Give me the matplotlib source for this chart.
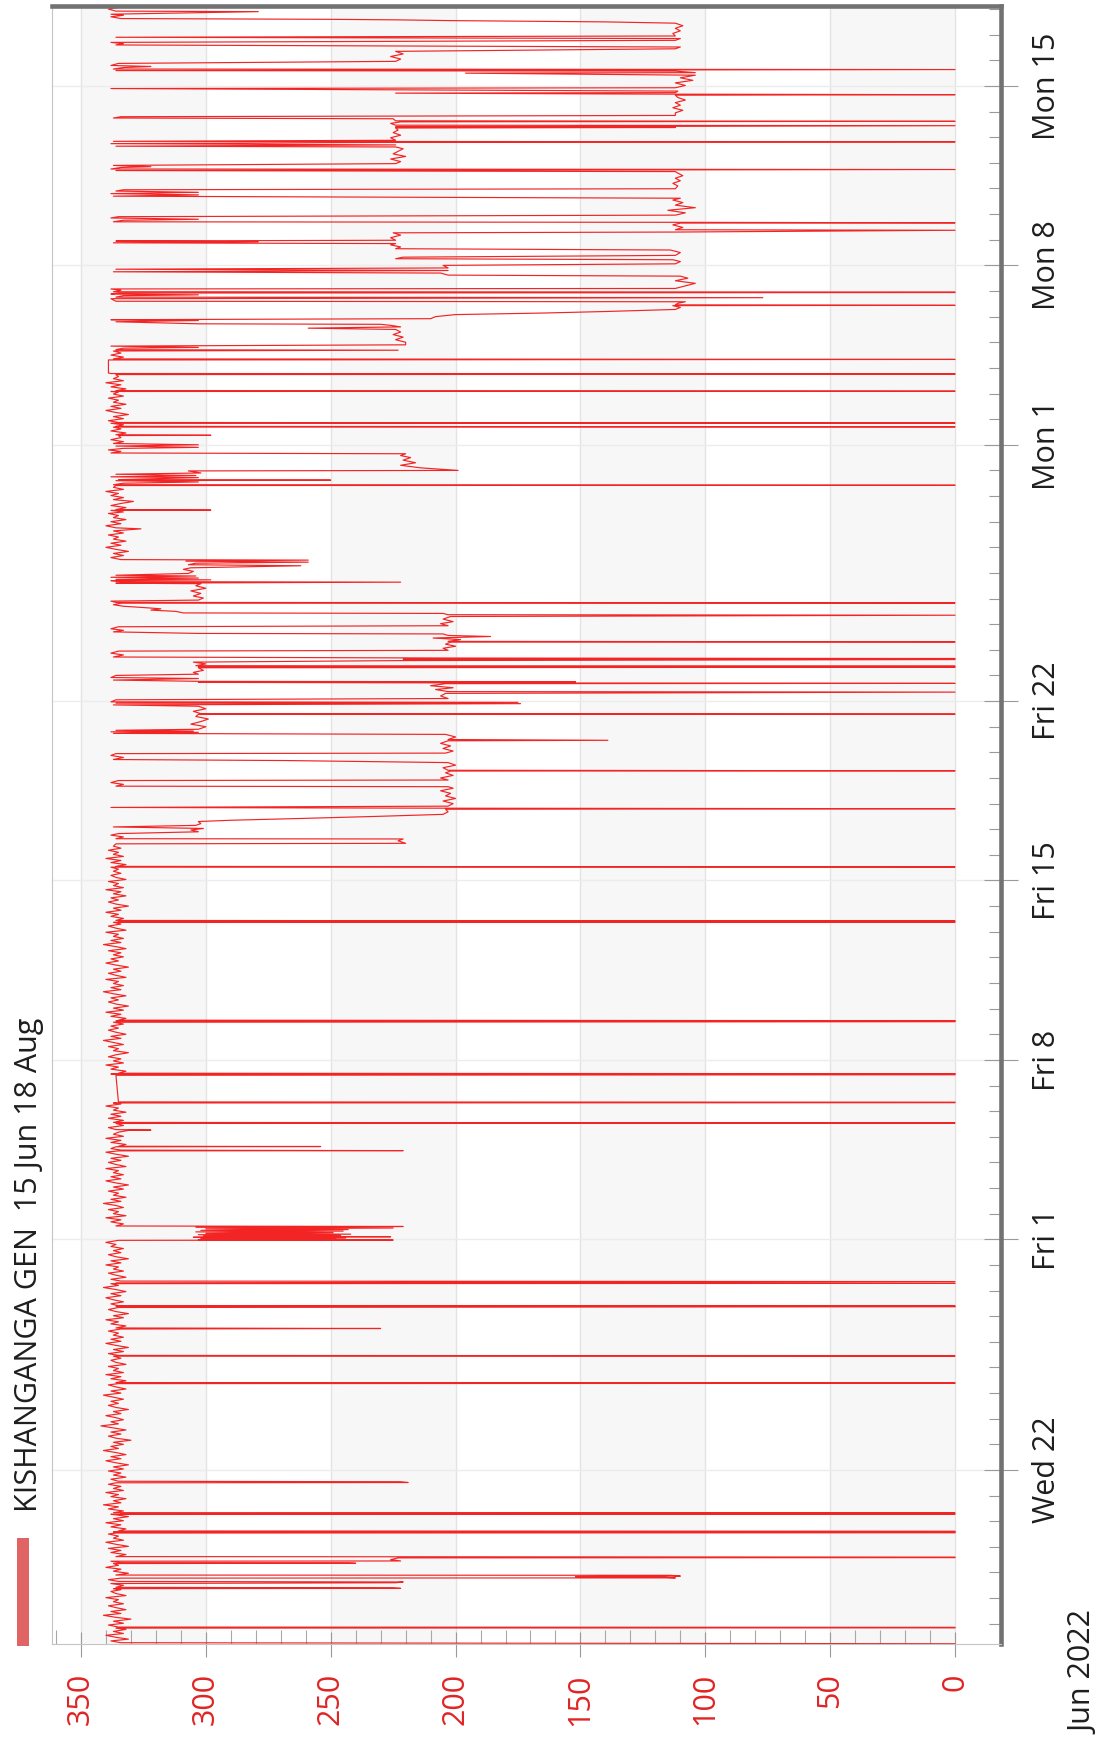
import datetime as dt

import numpy as np
import matplotlib
matplotlib.use("Agg")
import matplotlib.pyplot as plt
import matplotlib.dates as mdates
from matplotlib.ticker import FixedLocator, FuncFormatter
from matplotlib.patches import Rectangle

plt.rcParams['font.family'] = ['Open Sans', 'DejaVu Sans']

series_name = "KISHANGANGA GEN  15 Jun 18 Aug"
start = dt.datetime(2022, 6, 15)
month_label = "Jun 2022"

# Generation (MW) readings as (days after 15 Jun 00:00, MW), one list per stretch
wk1 = [
    (0.22, 0), (0.26, 334), (0.33, 338), (0.4, 331), (0.47, 336), (0.55, 340), (0.62, 333), (0.7, 337),
    (0.78, 332), (0.83, 336), (0.84, 0), (0.86, 0), (0.87, 335),
    (0.95, 339), (1.02, 333), (1.1, 337), (1.18, 330), (1.25, 336), (1.33, 341), (1.4, 334), (1.48, 338),
    (1.55, 332), (1.63, 336), (1.7, 339), (1.78, 333), (1.86, 337), (1.94, 335), (2.02, 340), (2.1, 332),
    (2.18, 336), (2.26, 338), (2.33, 334), (2.37, 337),
    (2.38, 222), (2.40, 225), (2.42, 336), (2.5, 333), (2.57, 338), (2.60, 224), (2.63, 221), (2.65, 335),
    (2.72, 339), (2.78, 334),
    (2.79, 112), (2.82, 118), (2.84, 152), (2.86, 110), (2.89, 114), (2.90, 336),
    (2.97, 331), (3.05, 337), (3.13, 334), (3.2, 340), (3.28, 335), (3.35, 337), (3.36, 240), (3.37, 243),
    (3.38, 334), (3.44, 338), (3.45, 222), (3.5, 226), (3.57, 223), (3.58, 0), (3.6, 0), (3.62, 336),
    (3.7, 332), (3.78, 338), (3.86, 334), (3.94, 339), (4.02, 331), (4.1, 336), (4.18, 340), (4.26, 333),
    (4.34, 337), (4.42, 335), (4.5, 339), (4.54, 336),
    (4.55, 0), (4.57, 0), (4.58, 337), (4.59, 0), (4.61, 0), (4.62, 335),
    (4.7, 332), (4.78, 338), (4.86, 334), (4.94, 340), (5.02, 333), (5.1, 337), (5.18, 331), (5.25, 336),
    (5.27, 338), (5.28, 0), (5.30, 334), (5.32, 0), (5.33, 337),
    (5.4, 333), (5.48, 339), (5.56, 335), (5.64, 341), (5.72, 334), (5.8, 337), (5.88, 332), (5.96, 338),
    (6.04, 335), (6.12, 340), (6.2, 333), (6.28, 337), (6.36, 334), (6.44, 339), (6.5, 336),
    (6.51, 219), (6.54, 222), (6.56, 335),
    (6.64, 338), (6.72, 332), (6.8, 337), (6.88, 334), (6.96, 339),
]

wk2 = [
    (7.04, 333), (7.12, 337), (7.2, 331), (7.28, 336), (7.36, 340), (7.44, 334), (7.52, 338), (7.6, 332),
    (7.68, 336), (7.76, 341), (7.84, 335), (7.92, 338), (8.0, 333), (8.08, 337), (8.16, 330), (8.24, 336),
    (8.32, 339), (8.4, 334), (8.48, 338), (8.56, 332), (8.64, 337), (8.72, 342), (8.8, 335), (8.88, 338),
    (8.96, 333), (9.04, 336), (9.12, 340), (9.2, 334), (9.28, 337), (9.36, 331), (9.44, 336), (9.52, 339),
    (9.6, 335), (9.68, 338), (9.76, 333), (9.84, 337), (9.92, 341), (10.0, 334), (10.08, 338), (10.16, 332),
    (10.24, 336), (10.32, 339), (10.37, 335),
    (10.38, 0), (10.40, 0), (10.41, 336),
    (10.48, 332), (10.56, 338), (10.64, 334), (10.72, 340), (10.8, 333), (10.88, 337), (10.96, 335),
    (11.04, 339), (11.12, 332), (11.2, 336), (11.28, 338), (11.36, 334), (11.44, 337),
    (11.45, 0), (11.47, 335),
    (11.54, 339), (11.62, 333), (11.7, 337), (11.78, 331), (11.86, 336), (11.94, 340), (12.02, 334),
    (12.1, 338), (12.18, 333), (12.26, 337), (12.34, 335), (12.42, 339), (12.5, 334), (12.52, 230),
    (12.54, 336), (12.62, 332), (12.7, 338), (12.78, 335), (12.86, 340), (12.94, 333), (13.02, 337),
    (13.1, 331), (13.18, 336), (13.26, 339), (13.34, 335),
    (13.37, 0), (13.38, 0), (13.39, 336), (13.40, 0), (13.41, 335),
    (13.48, 338), (13.56, 333), (13.64, 337), (13.72, 340), (13.8, 334), (13.88, 338), (13.96, 332),
    (14.04, 336), (14.12, 341), (14.2, 335), (14.27, 338),
    (14.28, 0), (14.30, 336), (14.35, 0), (14.37, 334),
    (14.44, 338), (14.52, 332),
]

wk3 = [
    (14.6, 336), (14.68, 339), (14.76, 333), (14.84, 337), (14.92, 335), (15.0, 340), (15.08, 334),
    (15.16, 338), (15.24, 331), (15.32, 336), (15.4, 339), (15.48, 334), (15.56, 337), (15.64, 333),
    (15.72, 338), (15.8, 336), (15.88, 340), (15.96, 335),
    (15.97, 225), (15.99, 303), (16.02, 248), (16.04, 302), (16.06, 244), (16.08, 305), (16.1, 226),
    (16.12, 301), (16.15, 246), (16.18, 303), (16.2, 242), (16.23, 300), (16.26, 249), (16.29, 304),
    (16.32, 245), (16.35, 302), (16.38, 243), (16.41, 300), (16.44, 225), (16.47, 304), (16.5, 221),
    (16.52, 336),
    (16.6, 333), (16.68, 338), (16.76, 334), (16.84, 340), (16.92, 332), (17.0, 337), (17.08, 335),
    (17.16, 339), (17.24, 333), (17.32, 336), (17.4, 341), (17.48, 334), (17.56, 338), (17.64, 332),
    (17.72, 337), (17.8, 335), (17.88, 339), (17.96, 333), (18.04, 337), (18.12, 331), (18.2, 336),
    (18.28, 340), (18.36, 334), (18.44, 338), (18.52, 333), (18.6, 337), (18.68, 335), (18.76, 340),
    (18.84, 332), (18.92, 336), (19.0, 339), (19.08, 334), (19.16, 338), (19.24, 331), (19.32, 336),
    (19.4, 340), (19.45, 335),
    (19.46, 221), (19.48, 334),
    (19.54, 338), (19.61, 336), (19.62, 254), (19.63, 335),
    (19.7, 332), (19.78, 338), (19.86, 334), (19.94, 340), (20.02, 333), (20.1, 337), (20.18, 335),
    (20.25, 331), (20.26, 322), (20.28, 336), (20.36, 339), (20.44, 333), (20.52, 336),
    (20.54, 0), (20.56, 337),
    (20.64, 333), (20.72, 339), (20.8, 334), (20.88, 338), (20.96, 332), (21.04, 337), (21.12, 335),
    (21.2, 340), (21.28, 334), (21.32, 337),
    (21.33, 0), (21.35, 0), (21.36, 335),
    (22.40, 336),
    (22.42, 0), (22.44, 0), (22.45, 338), (22.46, 0), (22.48, 335),
]

wk4 = [
    (22.56, 332), (22.64, 338), (22.72, 335), (22.8, 340), (22.88, 333), (22.96, 337), (23.04, 334),
    (23.12, 339), (23.2, 336), (23.28, 331), (23.36, 337), (23.44, 335), (23.52, 339), (23.6, 333),
    (23.68, 337), (23.76, 341), (23.84, 334), (23.92, 338), (24.0, 332), (24.08, 336), (24.16, 339),
    (24.24, 335), (24.32, 338), (24.4, 333), (24.47, 337),
    (24.49, 0), (24.51, 0), (24.52, 336), (24.53, 0), (24.55, 335),
    (24.62, 332), (24.7, 338), (24.78, 334), (24.86, 340), (24.94, 333), (25.02, 337), (25.1, 331),
    (25.18, 336), (25.26, 339), (25.34, 335), (25.42, 338), (25.5, 332), (25.58, 337), (25.66, 341),
    (25.74, 334), (25.82, 338), (25.9, 333), (25.98, 337), (26.06, 335), (26.14, 340), (26.22, 332),
    (26.3, 336), (26.38, 339), (26.46, 334), (26.54, 337), (26.62, 331), (26.7, 336), (26.78, 340),
    (26.86, 335), (26.94, 338), (27.02, 333), (27.1, 337), (27.18, 334), (27.26, 339), (27.34, 332),
    (27.42, 336), (27.5, 341), (27.58, 334), (27.66, 338), (27.74, 333), (27.82, 337), (27.9, 335),
    (27.98, 340), (28.06, 332), (28.14, 336), (28.22, 339), (28.3, 334), (28.37, 337),
    (28.38, 0), (28.40, 335), (28.42, 0), (28.44, 336),
    (28.52, 333), (28.6, 338), (28.68, 335), (28.76, 340), (28.84, 334), (28.92, 337), (29.0, 331),
    (29.08, 336), (29.16, 339), (29.24, 335), (29.32, 338), (29.4, 332), (29.48, 337), (29.56, 334),
    (29.64, 340), (29.72, 333), (29.8, 337), (29.88, 335), (29.96, 339), (30.04, 332), (30.12, 336),
    (30.2, 338), (30.28, 334), (30.36, 337), (30.44, 335), (30.52, 338),
    (30.53, 0), (30.55, 336),
    (30.62, 332), (30.7, 338), (30.78, 334), (30.86, 340), (30.94, 333), (31.02, 337), (31.1, 335),
    (31.18, 339), (31.26, 334), (31.34, 337), (31.43, 336),
    (31.45, 220), (31.55, 223), (31.62, 221), (31.63, 336),
]

wk5 = [
    (31.7, 333), (31.77, 338), (31.83, 335), (31.9, 303), (31.97, 306), (32.03, 301), (32.09, 337),
    (32.15, 304), (32.22, 302), (32.3, 303), (32.35, 290), (32.42, 262), (32.5, 232), (32.58, 205),
    (32.68, 203), (32.78, 204), (32.8, 0), (32.82, 202), (32.85, 338), (32.9, 203),
    (33.0, 201), (33.1, 205), (33.2, 200), (33.3, 204), (33.4, 202), (33.5, 206), (33.6, 201),
    (33.66, 203), (33.68, 336), (33.75, 333), (33.82, 338), (33.9, 335), (33.92, 203),
    (34.0, 206), (34.1, 201), (34.2, 204), (34.27, 202), (34.28, 0), (34.3, 203), (34.4, 205),
    (34.5, 200), (34.6, 203), (34.68, 268), (34.72, 337), (34.8, 333), (34.88, 338), (34.95, 336),
    (34.97, 204),
    (35.05, 201), (35.15, 205), (35.25, 202), (35.35, 206), (35.45, 203), (35.47, 139), (35.5, 203),
    (35.6, 200), (35.7, 204), (35.74, 337), (35.78, 303), (35.8, 338), (35.83, 305), (35.86, 336),
    (35.9, 303),
    (36.0, 300), (36.1, 306), (36.2, 302), (36.3, 299), (36.4, 304), (36.48, 303), (36.49, 0),
    (36.51, 302), (36.6, 305), (36.7, 300), (36.8, 303), (36.85, 337), (36.9, 174), (36.92, 336),
    (36.95, 175), (36.97, 338),
    (37.05, 336), (37.1, 203), (37.2, 206), (37.3, 204), (37.35, 0), (37.37, 203), (37.45, 208),
    (37.52, 201), (37.6, 210), (37.68, 204), (37.69, 0), (37.71, 203), (37.73, 303), (37.75, 152),
    (37.77, 303), (37.82, 337), (37.88, 303), (37.92, 338), (38.0, 336), (38.05, 303),
    (38.12, 305), (38.2, 301), (38.3, 303), (38.32, 0), (38.34, 303), (38.36, 0), (38.38, 304),
    (38.45, 300), (38.52, 305), (38.58, 221), (38.62, 0), (38.64, 221), (38.66, 0), (38.68, 205),
]

wk6 = [
    (38.72, 337), (38.8, 333), (38.87, 338), (38.95, 335), (38.98, 203), (39.06, 205), (39.14, 200),
    (39.22, 204), (39.3, 202), (39.31, 0), (39.33, 203), (39.4, 198), (39.46, 209), (39.52, 186),
    (39.56, 203), (39.62, 205), (39.64, 303), (39.7, 337), (39.76, 333), (39.82, 338), (39.9, 335),
    (39.94, 203),
    (40.02, 206), (40.1, 201), (40.2, 205), (40.3, 202), (40.35, 0), (40.37, 203), (40.42, 205),
    (40.44, 309), (40.5, 312), (40.55, 322), (40.6, 318), (40.65, 325), (40.7, 333), (40.76, 337),
    (40.82, 334), (40.83, 0), (40.85, 336), (40.9, 338), (40.94, 303),
    (41.02, 301), (41.1, 305), (41.2, 302), (41.3, 306), (41.4, 300), (41.5, 304), (41.58, 302),
    (41.6, 336), (41.64, 222), (41.66, 334), (41.7, 338), (41.73, 298), (41.75, 336), (41.8, 303),
    (41.83, 338), (41.88, 304), (41.91, 336),
    (41.98, 307), (42.06, 305), (42.14, 309), (42.2, 306), (42.28, 262), (42.32, 307), (42.38, 304),
    (42.42, 259), (42.46, 308), (42.5, 259), (42.52, 334),
    (42.6, 338), (42.68, 333), (42.76, 337), (42.84, 331), (42.92, 336), (43.0, 340), (43.08, 334),
    (43.16, 338), (43.24, 332), (43.32, 337), (43.4, 335), (43.48, 339), (43.56, 333), (43.64, 337),
    (43.72, 326), (43.76, 336), (43.84, 340), (43.92, 334), (44.0, 338), (44.08, 332), (44.16, 337),
    (44.24, 335), (44.32, 339), (44.38, 333), (44.44, 338),
    (44.45, 298), (44.47, 336),
    (44.55, 332), (44.63, 338), (44.71, 334), (44.79, 329), (44.86, 337), (44.94, 333), (45.02, 338),
    (45.1, 335), (45.18, 340), (45.26, 333), (45.34, 337), (45.41, 336),
    (45.42, 0), (45.44, 337),
]

wk7 = [
    (45.5, 333), (45.55, 303), (45.6, 336), (45.62, 250), (45.64, 335), (45.72, 303), (45.75, 338),
    (45.8, 304), (45.85, 336), (45.9, 302), (45.98, 307), (46.0, 199),
    (46.1, 214), (46.2, 222), (46.3, 216), (46.4, 221), (46.5, 218), (46.58, 222), (46.65, 220),
    (46.68, 338),
    (46.74, 334), (46.8, 339), (46.86, 333), (46.9, 303), (46.95, 336), (47.0, 303), (47.05, 337),
    (47.12, 333), (47.2, 338), (47.28, 334), (47.36, 335), (47.37, 298), (47.39, 336),
    (47.46, 332), (47.54, 338), (47.62, 334), (47.69, 337), (47.7, 0), (47.72, 336),
    (47.78, 333), (47.84, 338), (47.85, 0), (47.87, 335),
    (47.94, 339), (48.02, 333), (48.1, 337), (48.18, 331), (48.26, 336), (48.34, 340), (48.42, 334),
    (48.5, 338), (48.58, 332), (48.66, 337), (48.74, 335), (48.82, 339), (48.9, 333), (48.98, 337),
    (49.06, 335), (49.08, 338),
    (49.09, 0), (49.11, 336),
    (49.18, 332), (49.26, 338), (49.34, 334), (49.42, 340), (49.5, 333), (49.58, 337), (49.66, 335),
    (49.74, 336),
    (49.75, 0), (49.77, 0), (49.78, 338),
    (49.8, 339), (50.31, 339),
    (50.33, 0), (50.35, 337),
    (50.42, 333), (50.5, 338), (50.58, 334), (50.66, 337), (50.69, 223), (50.71, 336),
    (50.77, 333), (50.8, 303), (50.85, 338), (50.9, 220),
    (51.0, 220), (51.1, 224), (51.2, 221), (51.3, 225), (51.4, 222), (51.5, 224), (51.55, 259),
    (51.6, 222), (51.66, 226), (51.7, 230), (51.72, 303), (51.8, 336), (51.85, 303), (51.88, 338),
    (51.92, 210),
    (52.0, 208), (52.08, 200), (52.14, 165), (52.2, 140), (52.28, 112), (52.36, 110), (52.43, 113),
    (52.44, 0), (52.46, 112),
]

wk8 = [
    (52.52, 111), (52.58, 108), (52.6, 336), (52.7, 338), (52.74, 77), (52.76, 336),
    (52.82, 333), (52.85, 303), (52.88, 338), (52.92, 335), (52.94, 0), (52.96, 0), (52.97, 337),
    (53.03, 334), (53.08, 338), (53.1, 112), (53.2, 108), (53.3, 104), (53.4, 112), (53.5, 107),
    (53.58, 110), (53.62, 203), (53.7, 206), (53.75, 337), (53.8, 203), (53.85, 336), (53.9, 203),
    (54.0, 205), (54.06, 112), (54.15, 110), (54.22, 113), (54.26, 224), (54.32, 221), (54.39, 112),
    (54.5, 110), (54.6, 114), (54.65, 224),
    (54.72, 222), (54.8, 226), (54.85, 224), (54.88, 337), (54.92, 279), (54.95, 336), (54.98, 224),
    (55.08, 226), (55.18, 222), (55.27, 225), (55.3, 112), (55.37, 0), (55.39, 112), (55.48, 109),
    (55.58, 113), (55.65, 110), (55.66, 0), (55.68, 112), (55.7, 337),
    (55.76, 333), (55.8, 303), (55.85, 338), (55.9, 335), (55.96, 112),
    (56.05, 108), (56.15, 115), (56.25, 104), (56.35, 112), (56.45, 109), (56.55, 113), (56.62, 110),
    (56.68, 280), (56.7, 337), (56.75, 303), (56.8, 338), (56.85, 303), (56.9, 336), (56.95, 333),
    (56.99, 112),
    (57.1, 111), (57.2, 113), (57.3, 110), (57.4, 112), (57.5, 109), (57.6, 111), (57.66, 112),
    (57.7, 336), (57.74, 0), (57.76, 338),
    (57.82, 334), (57.85, 322), (57.9, 337), (57.97, 224),
    (58.05, 222), (58.15, 226), (58.25, 220), (58.35, 225), (58.45, 223),
]

wk9 = [
    (58.55, 221), (58.62, 224), (58.65, 336), (58.7, 224), (58.75, 338), (58.8, 224), (58.82, 0),
    (58.84, 337), (58.88, 224),
    (58.98, 226), (59.08, 222), (59.18, 225), (59.28, 223), (59.36, 224), (59.38, 112), (59.4, 224),
    (59.45, 0), (59.47, 224), (59.54, 226), (59.6, 222), (59.62, 0), (59.64, 224), (59.72, 225),
    (59.75, 337), (59.8, 334), (59.85, 112),
    (59.95, 112), (60.05, 109), (60.15, 113), (60.25, 110), (60.35, 112), (60.45, 108), (60.55, 111),
    (60.64, 112), (60.66, 0), (60.68, 112), (60.72, 224), (60.74, 112), (60.8, 111), (60.9, 338),
    (60.93, 112),
    (61.02, 108), (61.12, 112), (61.22, 105), (61.32, 110), (61.42, 104), (61.5, 196), (61.52, 104),
    (61.58, 112), (61.6, 336), (61.64, 0), (61.66, 337),
    (61.72, 333), (61.76, 322), (61.8, 338), (61.88, 335), (61.96, 224),
    (62.05, 222), (62.15, 226), (62.25, 221), (62.35, 224), (62.45, 112), (62.52, 110), (62.6, 336),
    (62.65, 333), (62.7, 338), (62.78, 112), (62.85, 110), (62.9, 336), (62.95, 112),
    (63.05, 113), (63.15, 110), (63.25, 112), (63.35, 109), (63.45, 112), (63.5, 140), (63.55, 202),
    (63.58, 224), (63.6, 250), (63.63, 334),
    (63.7, 338), (63.76, 333), (63.8, 338), (63.9, 279), (63.92, 336), (64.0, 339), (64.08, 334),
    (64.15, 337), (64.25, 335),
]

value_ticks = [0, 50, 100, 150, 200, 250, 300, 350]
date_ticks = [dt.datetime(2022, 6, 22), dt.datetime(2022, 7, 1), dt.datetime(2022, 7, 8),
              dt.datetime(2022, 7, 15), dt.datetime(2022, 7, 22), dt.datetime(2022, 8, 1),
              dt.datetime(2022, 8, 8), dt.datetime(2022, 8, 15)]

# ---------------------------------------------------------------------------
readings = np.array(wk1 + wk2 + wk3 + wk4 + wk5 + wk6 + wk7 + wk8 + wk9, dtype=float)
t0 = mdates.date2num(start)
times = t0 + readings[:, 0]
mw = readings[:, 1]

W, H = 1104, 1743
fig = plt.figure(figsize=(W / 100, H / 100), dpi=100)
fig.patch.set_facecolor('white')

# axes box in pixels: left 52, right 1001, top 6, bottom 1644
ax = fig.add_axes([52 / W, 1 - 1644 / H, (1001 - 52) / W, (1644 - 6) / H])
ax.set_facecolor('white')

# time runs upward, generation runs right-to-left
ax.set_xlim(361.6, -18.4)
ax.set_ylim(t0 + 0.21, t0 + 64.12)

for lo in (0, 100, 200, 300):
    ax.axvspan(lo, lo + 50, color='#f7f7f7', lw=0, zorder=0)

ax.plot(mw, times, color='#f22424', lw=0.85, zorder=3)

# value axis (bottom)
ax.xaxis.set_major_locator(FixedLocator(value_ticks))
ax.xaxis.set_minor_locator(FixedLocator(list(range(0, 361, 10))))
ax.xaxis.set_major_formatter(FuncFormatter(lambda v, p: f"{int(v)}"))
ax.tick_params(axis='x', which='major', direction='inout', length=18, width=0.8, color='#9a9a9a',
               labelsize=22, labelcolor='#e02424', labelrotation=90, pad=12)
ax.tick_params(axis='x', which='minor', direction='in', length=10, width=0.8, color='#a8a8a8')
ax.grid(axis='x', which='major', color='#e3e3e3', lw=1.0, zorder=1)

# time axis (right)
ax.yaxis.tick_right()
ax.yaxis.set_major_locator(FixedLocator([mdates.date2num(d) for d in date_ticks]))
ax.yaxis.set_minor_locator(mdates.DayLocator())
ax.yaxis.set_major_formatter(FuncFormatter(
    lambda v, p: f"{mdates.num2date(v):%a} {mdates.num2date(v).day}"))
ax.tick_params(axis='y', which='major', direction='inout', length=24, width=0.8, color='#9a9a9a',
               labelsize=22, labelcolor='#1e1e1e', labelrotation=90, pad=10, left=False, right=True)
ax.tick_params(axis='y', which='minor', direction='in', length=9, width=0.8, color='#9a9a9a',
               left=False, right=True)
for lab in ax.get_yticklabels():
    lab.set_va('center')
ax.grid(axis='y', which='major', color='#ececec', lw=1.0, zorder=1)

for side in ('left', 'bottom'):
    ax.spines[side].set_color('#c4c4c4')
    ax.spines[side].set_linewidth(0.8)
for side in ('top', 'right'):
    ax.spines[side].set_color('#727272')
    ax.spines[side].set_linewidth(3.3)
for s in ax.spines.values():
    s.set_zorder(5)

# legend swatch and series title
fig.add_artist(Rectangle((17 / W, 1 - 1646 / H), 12 / W, 108 / H, transform=fig.transFigure,
                         facecolor='#e06464', edgecolor='none'))
fig.text(29 / W, 1 - 1512 / H, series_name, rotation=90, ha='center', va='bottom',
         fontsize=22, color='#1e1e1e')
fig.text(1084 / W, 1 - 1673 / H, month_label, rotation=90, ha='center', va='center',
         fontsize=22, color='#1e1e1e')

fig.savefig('out.png', dpi=100, facecolor='white')
